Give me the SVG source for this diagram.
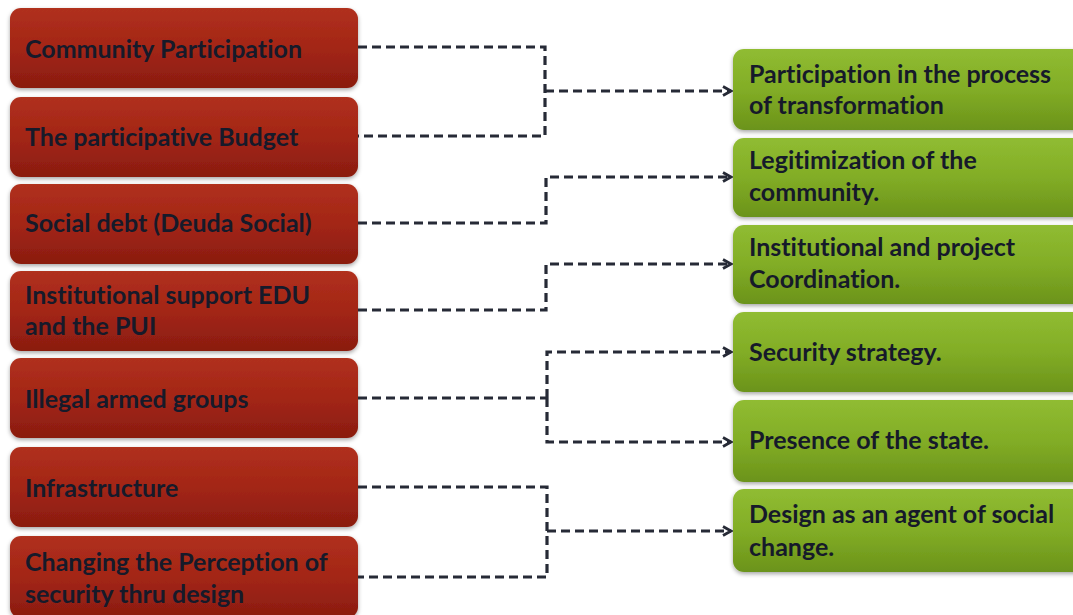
<svg xmlns="http://www.w3.org/2000/svg" width="1073" height="615" viewBox="0 0 1073 615">
<defs>
<linearGradient id="gRed" x1="0" y1="0" x2="0" y2="1">
<stop offset="0" stop-color="#b0301e"/>
<stop offset="0.5" stop-color="#a32615"/>
<stop offset="1" stop-color="#8a1c10"/>
</linearGradient>
<linearGradient id="gGreen" x1="0" y1="0" x2="0" y2="1">
<stop offset="0" stop-color="#90bc32"/>
<stop offset="0.5" stop-color="#82ad26"/>
<stop offset="1" stop-color="#6b931a"/>
</linearGradient>
<filter id="sh" x="-5%" y="-10%" width="110%" height="130%">
<feDropShadow dx="0" dy="2" stdDeviation="2" flood-color="#000" flood-opacity="0.35"/>
</filter>
<marker id="arr" viewBox="0 0 12 12" refX="10" refY="6" markerWidth="12" markerHeight="12" markerUnits="userSpaceOnUse" orient="auto">
<path d="M2,1.5 L10,6 L2,10.5" fill="none" stroke="#262a36" stroke-width="2.8"/>
</marker>
</defs>
<style>
.red{fill:url(#gRed);filter:url(#sh)}
.green{fill:url(#gGreen);filter:url(#sh)}
text{font-family:Lato,"Liberation Sans",sans-serif;font-weight:bold;font-size:25px;fill:#161a2a;font-variant-ligatures:none}
.c{fill:none;stroke:#262a36;stroke-width:3.2;stroke-dasharray:9 5}
</style>
<g id="n1"><rect class="red" x="10" y="8" width="348" height="80" rx="11"/><text x="25" y="58">Community Participation</text></g>
<g id="n2"><rect class="red" x="10" y="97" width="348" height="80" rx="11"/><text x="25" y="146">The participative Budget</text></g>
<g id="n3"><rect class="red" x="10" y="184" width="348" height="80" rx="11"/><text x="25" y="232">Social debt (Deuda Social)</text></g>
<g id="n4"><rect class="red" x="10" y="271" width="348" height="80" rx="11"/><text x="25" y="304">Institutional support EDU</text><text x="25" y="335">and the PUI</text></g>
<g id="n5"><rect class="red" x="10" y="358" width="348" height="80" rx="11"/><text x="25" y="408">Illegal armed groups</text></g>
<g id="n6"><rect class="red" x="10" y="447" width="348" height="80" rx="11"/><text x="25" y="497">Infrastructure</text></g>
<g id="n7"><rect class="red" x="10" y="536" width="348" height="82" rx="11"/><text x="25" y="571">Changing the Perception of</text><text x="25" y="603">security thru design</text></g>
<g id="r1"><rect class="green" x="733" y="49" width="360" height="81" rx="11"/><text x="749" y="83">Participation in the process</text><text x="749" y="114">of transformation</text></g>
<g id="r2"><rect class="green" x="733" y="138" width="360" height="79" rx="11"/><text x="749" y="169">Legitimization of the</text><text x="749" y="201">community.</text></g>
<g id="r3"><rect class="green" x="733" y="225" width="360" height="79" rx="11"/><text x="749" y="256">Institutional and project</text><text x="749" y="288">Coordination.</text></g>
<g id="r4"><rect class="green" x="733" y="312" width="360" height="80" rx="11"/><text x="749" y="361">Security strategy.</text></g>
<g id="r5"><rect class="green" x="733" y="400" width="360" height="82" rx="11"/><text x="749" y="449">Presence of the state.</text></g>
<g id="r6"><rect class="green" x="733" y="489" width="360" height="83" rx="11"/><text x="749" y="523">Design as an agent of social</text><text x="749" y="556">change.</text></g>
<g id="connectors">
<path class="c" d="M358,47 H545 V136 H358"/>
<path class="c" d="M545,91 H731" marker-end="url(#arr)"/>
<path class="c" d="M358,223 H546 V177 H731" marker-end="url(#arr)"/>
<path class="c" d="M358,310 H546 V264 H731" marker-end="url(#arr)"/>
<path class="c" d="M358,398 H547"/>
<path class="c" d="M547,398 V352 H731" marker-end="url(#arr)"/>
<path class="c" d="M547,398 V442 H731" marker-end="url(#arr)"/>
<path class="c" d="M358,487 H547 V577 H358"/>
<path class="c" d="M547,531 H731" marker-end="url(#arr)"/>
</g>
</svg>
